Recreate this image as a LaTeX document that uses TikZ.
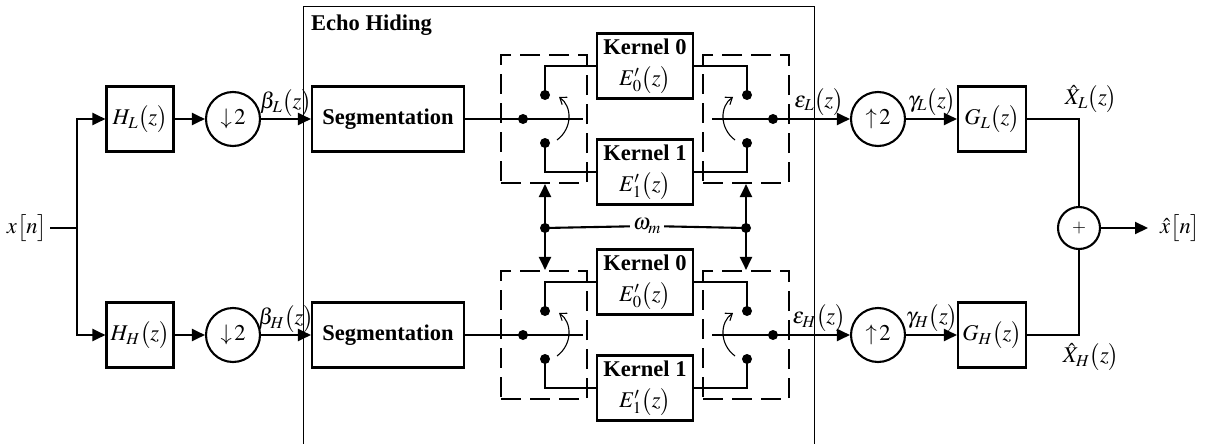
\documentclass[tikz,border=0pt]{standalone}
\usepackage{mathptmx}
\usepackage{fontspec}
\setmainfont{Liberation Serif}
\usetikzlibrary{arrows.meta}
\newcommand{\pz}{\bigl(z\bigr)}
\begin{document}
\begin{tikzpicture}[x=1pt,y=-1pt,
  every node/.style={font=\fontsize{22.5}{31}\selectfont},
  blk/.style={draw, line width=2.1pt, inner sep=0pt, align=center},
  conn/.style={line width=2.1pt},
  arr/.style={conn, -{Triangle[length=13pt,width=12pt]}},
  jdot/.style={circle, fill, inner sep=0pt, minimum size=10pt},
  dbox/.style={draw, line width=2.1pt, dash pattern=on 20pt off 9pt, minimum width=86pt, minimum height=128pt, inner sep=0pt},
  swarr/.style={line width=1.1pt, -{Straight Barb[length=6pt,width=9pt]}},
  rate/.style={circle, draw, line width=2.1pt, minimum size=54pt, inner sep=0pt},
  lbl/.style={inner sep=0pt}
]
\useasboundingbox (0,0) rectangle (1215,444);

% Echo Hiding frame
\draw[line width=1pt] (303,444) -- (303,7) -- (814,7) -- (814,444);
\node[lbl, anchor=west] (eh) at (311,25) {\textbf{Echo Hiding}};

% input
\node[lbl] (xin) at (27,228) {$x\bigl[n\bigr]$};
\coordinate (J) at (77,228);
\draw[conn] (xin.east) ++(3,0) -- (J);

\foreach \r/\y/\s in {T/119/L, B/335/H} {
  \node[blk, minimum width=67pt, minimum height=65pt] (H\r) at (140,\y) {$H_{\s}\pz$};
  \node[rate] (D\r) at (233,\y) {$\downarrow\!2$};
  \node[blk, minimum width=152pt, minimum height=65pt] (S\r) at (388,\y) {\textbf{Segmentation}};
  \node[rate] (U\r) at (878,\y) {$\uparrow\!2$};
  \node[blk, minimum width=68pt, minimum height=65pt] (G\r) at (992,\y) {$G_{\s}\pz$};
  \node[lbl] (beta\r) at (286,\y-16) {$\beta_{\s}\pz$};
  \node[lbl] (eps\r) at (819,\y-17) {$\varepsilon_{\s}\pz$};
  \node[lbl] (gam\r) at (932,\y-17) {$\gamma_{\s}\pz$};
  \draw[arr] (J) |- (H\r);
  \draw[arr] (H\r) -- (D\r);
  \draw[arr] (D\r) -- (S\r);
  \draw[arr] (U\r) -- (G\r);
}

\foreach \r/\dy in {T/0, B/216} {
\begin{scope}[shift={(0,\dy)}]
  \node[dbox] (LB\r) at (544,119) {};
  \node[dbox] (RB\r) at (746,119) {};
  \node[blk, minimum width=96pt, minimum height=65pt] (K0\r) at (645,66) {\textbf{Kernel 0}\\$E'_0\pz$};
  \node[blk, minimum width=96pt, minimum height=65pt] (K1\r) at (645,172) {\textbf{Kernel 1}\\$E'_1\pz$};
  \node[jdot] (CL\r) at (523,119) {};
  \node[jdot] (A\r) at (545,95) {};
  \node[jdot] (B\r) at (545,143) {};
  \node[jdot] (C\r) at (747,95) {};
  \node[jdot] (E\r) at (747,143) {};
  \node[jdot] (CR\r) at (773,119) {};
  \coordinate (LE\r) at (583,119);
  \coordinate (RS\r) at (712,119);
  \draw[conn] (S\r.east) -- (LE\r);
  \draw[conn] (A\r.center) |- (K0\r.west);
  \draw[conn] (B\r.center) |- (K1\r.west);
  \draw[conn] (K0\r.east) -| (C\r.center);
  \draw[conn] (K1\r.east) -| (E\r.center);
  \draw[conn] (RS\r) -- (CR\r.center);
  \draw[arr] (CR\r.center) -- (U\r);
  \draw[swarr] (557,140) .. controls (573,128) and (572,106) .. (559,97);
  \draw[swarr] (735,140) .. controls (719,128) and (720,106) .. (733,97);
\end{scope}
}

% control signal
\node[jdot] (ML) at (545,228) {};
\node[jdot] (MR) at (746,228) {};
\node[lbl, fill=white, inner xsep=3pt] (om) at (647,226) {$\omega_m$};
\draw[conn] (ML.center) -- (om) -- (MR.center);
\draw[arr] (ML.center) -- (ML |- LBT.south);
\draw[arr] (ML.center) -- (ML |- LBB.north);
\draw[arr] (MR.center) -- (MR |- RBT.south);
\draw[arr] (MR.center) -- (MR |- RBB.north);

% synthesis
\node[circle, draw, line width=2.1pt, minimum size=42pt, inner sep=0pt] (ADD) at (1079,228) {\fontsize{18}{20}\selectfont $+$};
\draw[conn] (GT.east) -| (ADD.north);
\draw[conn] (GB.east) -| (ADD.south);
\node[lbl] (XL) at (1091,99) {$\hat{X}_L\pz$};
\node[lbl] (XH) at (1091,357) {$\hat{X}_H\pz$};
\node[lbl, anchor=west] (xo) at (1160,228) {$\hat{x}\bigl[n\bigr]$};
\draw[arr, shorten >=12pt] (ADD.east) -- (xo.west);
\end{tikzpicture}
\end{document}
